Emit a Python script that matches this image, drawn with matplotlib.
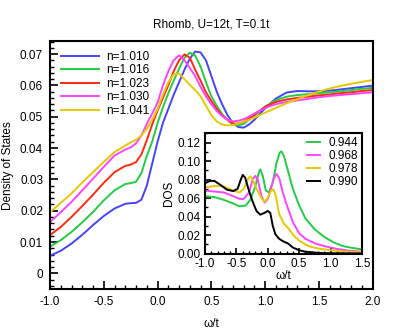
import numpy as np
import matplotlib.pyplot as plt
from matplotlib.ticker import MultipleLocator

plt.rcParams['font.family'] = ['Liberation Sans', 'DejaVu Sans']
plt.rcParams['font.size'] = 8.5

# main panel: DOS vs omega/t for several fillings
W = [-1.0, -0.9, -0.8, -0.7, -0.6, -0.5, -0.4, -0.3, -0.25, -0.2, -0.15, -0.1, -0.05,
     0.0, 0.05, 0.1, 0.15, 0.2, 0.25, 0.3, 0.35, 0.4, 0.45, 0.5, 0.55, 0.6, 0.65,
     0.7, 0.75, 0.8, 0.85, 0.9, 1.0, 1.1, 1.2, 1.3, 1.4, 1.5, 1.6, 1.7, 1.8, 1.9, 2.0]
N1010 = [0.0056, 0.0072, 0.0095, 0.0123, 0.0154, 0.0183, 0.0207, 0.0222, 0.0224, 0.0225,
         0.0235, 0.0280, 0.0350, 0.0420, 0.0480, 0.0525, 0.0570, 0.0610, 0.0650, 0.0685,
         0.0708, 0.0705, 0.0680, 0.0630, 0.0580, 0.0540, 0.0505, 0.0480, 0.0467, 0.0465,
         0.0475, 0.0490, 0.0527, 0.0558, 0.0577, 0.0582, 0.0581, 0.0581, 0.0583, 0.0587,
         0.0591, 0.0595, 0.0599]
N1016 = [0.0085, 0.0106, 0.0132, 0.0163, 0.0196, 0.0233, 0.0265, 0.0285, 0.0288, 0.0292,
         0.0320, 0.0375, 0.0420, 0.0480, 0.0530, 0.0575, 0.0615, 0.0653, 0.0688, 0.0704,
         0.0695, 0.0660, 0.0610, 0.0565, 0.0535, 0.0508, 0.0490, 0.0475, 0.0472, 0.0477,
         0.0490, 0.0503, 0.0532, 0.0553, 0.0564, 0.0569, 0.0572, 0.0575, 0.0578, 0.0581,
         0.0585, 0.0589, 0.0592]
N1023 = [0.0122, 0.0148, 0.0180, 0.0215, 0.0251, 0.0289, 0.0323, 0.0343, 0.0347, 0.0355,
         0.0380, 0.0425, 0.0475, 0.0520, 0.0560, 0.0600, 0.0645, 0.0680, 0.0699, 0.0688,
         0.0650, 0.0615, 0.0578, 0.0550, 0.0525, 0.0505, 0.0490, 0.0478, 0.0478, 0.0484,
         0.0494, 0.0506, 0.0532, 0.0547, 0.0555, 0.0560, 0.0564, 0.0568, 0.0571, 0.0575,
         0.0578, 0.0582, 0.0585]
N1030 = [0.0164, 0.0195, 0.0228, 0.0265, 0.0302, 0.0340, 0.0376, 0.0395, 0.0402, 0.0415,
         0.0440, 0.0477, 0.0510, 0.0545, 0.0600, 0.0645, 0.0680, 0.0696, 0.0680, 0.0655,
         0.0630, 0.0595, 0.0565, 0.0540, 0.0518, 0.0502, 0.0490, 0.0485, 0.0487, 0.0492,
         0.0500, 0.0510, 0.0528, 0.0540, 0.0547, 0.0552, 0.0557, 0.0562, 0.0566, 0.0569,
         0.0572, 0.0575, 0.0578]
N1041 = [0.0195, 0.0225, 0.0255, 0.0290, 0.0323, 0.0356, 0.0387, 0.0408, 0.0418, 0.0426,
         0.0440, 0.0462, 0.0490, 0.0525, 0.0570, 0.0610, 0.0635, 0.0638, 0.0620, 0.0602,
         0.0585, 0.0565, 0.0535, 0.0505, 0.0485, 0.0475, 0.0472, 0.0474, 0.0478, 0.0484,
         0.0490, 0.0497, 0.0513, 0.0528, 0.0543, 0.0556, 0.0569, 0.0580, 0.0590, 0.0598,
         0.0605, 0.0611, 0.0617]
MAIN_LABELS = ["n=1.010", "n=1.016", "n=1.023", "n=1.030", "n=1.041"]

# inset: DOS for fillings below 1
X944 = [-1.0, -0.85, -0.7, -0.55, -0.45, -0.35, -0.28, -0.2, -0.15, -0.12, -0.08, -0.03,
        0.02, 0.08, 0.14, 0.19, 0.22, 0.26, 0.32, 0.4, 0.5, 0.6, 0.75, 0.9, 1.05, 1.2,
        1.35, 1.5]
Y944 = [0.062, 0.061, 0.058, 0.054, 0.051, 0.052, 0.058, 0.072, 0.086, 0.091, 0.084, 0.068,
        0.066, 0.077, 0.098, 0.109, 0.1105, 0.105, 0.090, 0.070, 0.052, 0.038, 0.026,
        0.018, 0.012, 0.008, 0.006, 0.0045]
X968 = [-1.0, -0.85, -0.7, -0.55, -0.45, -0.38, -0.3, -0.24, -0.2, -0.16, -0.1, -0.05,
        0.0, 0.05, 0.1, 0.14, 0.18, 0.24, 0.3, 0.4, 0.5, 0.6, 0.75, 0.9, 1.1, 1.3, 1.5]
Y968 = [0.068, 0.067, 0.066, 0.062, 0.059, 0.059, 0.066, 0.080, 0.084, 0.080, 0.062, 0.055,
        0.059, 0.070, 0.082, 0.086, 0.082, 0.066, 0.053, 0.034, 0.022, 0.016, 0.011, 0.008,
        0.005, 0.003, 0.002]
X978 = [-1.0, -0.85, -0.7, -0.55, -0.45, -0.38, -0.32, -0.28, -0.24, -0.18, -0.1, -0.05,
        0.0, 0.05, 0.09, 0.13, 0.18, 0.25, 0.33, 0.42, 0.52, 0.65, 0.8, 1.0, 1.2, 1.5]
Y978 = [0.0715, 0.073, 0.0725, 0.068, 0.066, 0.070, 0.080, 0.0835, 0.080, 0.070, 0.060,
        0.056, 0.060, 0.068, 0.0695, 0.062, 0.043, 0.033, 0.027, 0.019, 0.013, 0.008,
        0.0055, 0.0035, 0.0022, 0.0014]
X990 = [-1.0, -0.92, -0.85, -0.75, -0.65, -0.55, -0.48, -0.44, -0.4, -0.36, -0.3, -0.24,
        -0.18, -0.12, -0.05, 0.0, 0.04, 0.08, 0.12, 0.18, 0.25, 0.32, 0.4, 0.5, 0.6, 0.8,
        1.0, 1.5]
Y990 = [0.076, 0.0785, 0.0785, 0.074, 0.069, 0.0675, 0.070, 0.078, 0.085, 0.082, 0.068,
        0.056, 0.046, 0.042, 0.044, 0.046, 0.044, 0.030, 0.021, 0.016, 0.013, 0.011,
        0.0065, 0.0035, 0.002, 0.0007, 0.0003, 0.0001]
INSET_LABELS = ["0.944", "0.968", "0.978", "0.990"]

BLUE, GREEN, RED, MAGENTA, YELLOW = "#4444ff", "#22cc44", "#ff2a10", "#ff44ff", "#e8c800"


def style_axes(ax, major_len, minor_len):
    for s in ax.spines.values():
        s.set_linewidth(1.5)
    ax.tick_params(which="major", direction="in", length=major_len, width=1.2,
                   top=False, right=False)
    ax.tick_params(which="minor", direction="in", length=minor_len, width=1.0,
                   top=False, right=False)


fig = plt.figure(figsize=(4.15, 3.32), dpi=100)
ax = fig.add_axes([0.1205, 0.1295, 0.7775, 0.7455])
for y, c, lab in zip([N1010, N1016, N1023, N1030, N1041],
                     [BLUE, GREEN, RED, MAGENTA, YELLOW], MAIN_LABELS):
    ax.plot(W, y, color=c, lw=1.4, label=lab)
ax.set_xlim(-1.0, 2.0)
ax.set_ylim(-0.005, 0.074)
ax.xaxis.set_major_locator(MultipleLocator(0.5))
ax.xaxis.set_minor_locator(MultipleLocator(0.1))
ax.yaxis.set_major_locator(MultipleLocator(0.01))
ax.yaxis.set_minor_locator(MultipleLocator(0.002))
ax.xaxis.set_major_formatter(plt.FuncFormatter(lambda v, p: f"{v:.1f}"))
ax.yaxis.set_major_formatter(plt.FuncFormatter(lambda v, p: "0" if abs(v) < 1e-9 else f"{v:.2f}"))
style_axes(ax, 5.5, 3)
ax.tick_params(pad=5)
ax.set_xlabel("ω/t", labelpad=7)
ax.set_ylabel("Density of States", labelpad=4)
ax.set_title("Rhomb, U=12t, T=0.1t", fontsize=8.5, pad=10)
ax.legend(loc="upper left", frameon=False, handlelength=3.2, handletextpad=0.55,
          labelspacing=0.12, borderaxespad=0.3, bbox_to_anchor=(0.01, 0.995))

ins = fig.add_axes([0.494, 0.2364, 0.378, 0.3621])
for xx, yy, c, lab in zip([X944, X968, X978, X990], [Y944, Y968, Y978, Y990],
                          [GREEN, MAGENTA, YELLOW, "black"], INSET_LABELS):
    ins.plot(xx, yy, color=c, lw=1.4, label=lab)
ins.set_xlim(-1.0, 1.5)
ins.set_ylim(0.0, 0.13)
ins.xaxis.set_major_locator(MultipleLocator(0.5))
ins.xaxis.set_minor_locator(MultipleLocator(0.1))
ins.yaxis.set_major_locator(MultipleLocator(0.02))
ins.yaxis.set_minor_locator(MultipleLocator(0.01))
ins.xaxis.set_major_formatter(plt.FuncFormatter(lambda v, p: f"{v:.1f}"))
ins.yaxis.set_major_formatter(plt.FuncFormatter(lambda v, p: f"{v:.2f}"))
style_axes(ins, 4.5, 2.5)
ins.tick_params(pad=3)
ins.set_xlabel("ω/t", labelpad=0)
ins.set_ylabel("DOS", labelpad=2)
ins.legend(loc="upper right", frameon=False, handlelength=1.1, handletextpad=0.7,
           labelspacing=0.1, borderaxespad=0.15, borderpad=0.15)

fig.savefig("out.png", dpi=100)
